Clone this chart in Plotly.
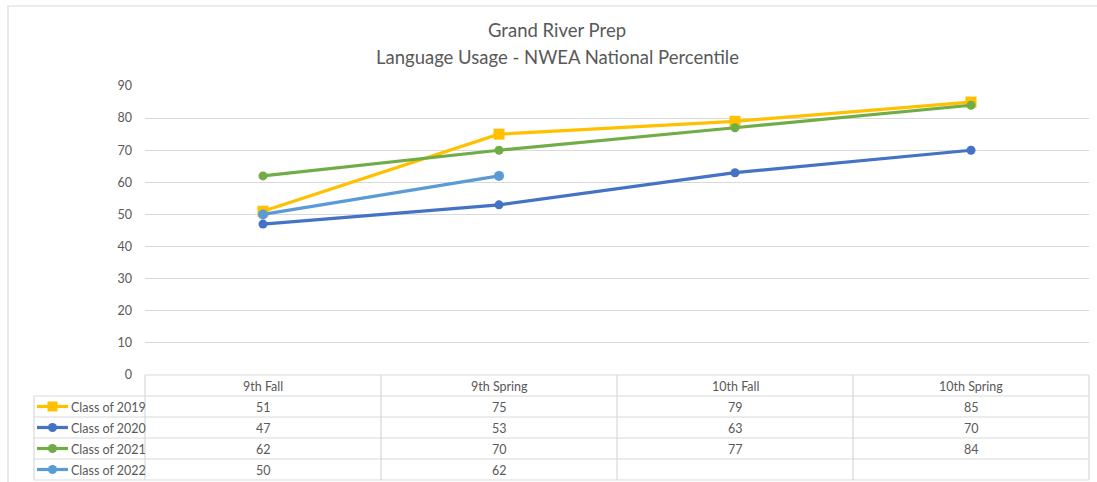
import plotly.graph_objects as go

categories = ["9th Fall", "9th Spring", "10th Fall", "10th Spring"]
series_names = ["Class of 2019", "Class of 2020", "Class of 2021", "Class of 2022"]
class_2019 = [51, 75, 79, 85]
class_2020 = [47, 53, 63, 70]
class_2021 = [62, 70, 77, 84]
class_2022 = [50, 62, None, None]
y_ticks = [0, 10, 20, 30, 40, 50, 60, 70, 80, 90]
title_lines = ["Grand River Prep", "Language Usage - NWEA National Percentile"]

series_values = [class_2019, class_2020, class_2021, class_2022]
colors = ["#FFC000", "#4472C4", "#70AD47", "#5B9BD5"]
symbols = ["square", "circle", "circle", "circle"]
marker_sizes = [11, 9, 9, 10]

W, H = 1097, 482
L, R, T, B = 145, 1089, 86, 375  # plot area in pixels
FONT = "Lato"
TXT = "#595959"
GRID = "#D9D9D9"

def px(x):
    return (x - L) / (R - L)

def py(y):
    return (B - y) / (B - T)

xs = list(range(len(categories)))
fig = go.Figure()
for name, vals, c, s, ms in zip(series_names, series_values, colors, symbols, marker_sizes):
    fig.add_trace(go.Scatter(
        x=xs, y=vals, name=name, mode="lines+markers",
        line=dict(color=c, width=3.2),
        marker=dict(symbol=s, size=ms, color=c),
        showlegend=False, hoverinfo="skip",
    ))

shapes = []
annotations = []
# outer frame
shapes.append(dict(type="rect", xref="paper", yref="paper",
                   x0=px(8), x1=px(1110), y0=py(6), y1=py(495),
                   line=dict(color=GRID, width=1.2), fillcolor="rgba(0,0,0,0)", layer="below"))

row_h = 21
header_top = 375
header_bot = 396
row_lines = [header_bot + i * row_h for i in range(len(series_names) + 1)]
col_w = (R - L) / len(categories)
leg_left = 34
shapes.append(dict(type="line", xref="paper", yref="paper", x0=px(L), x1=px(R),
                   y0=py(header_top), y1=py(header_top), line=dict(color=GRID, width=1.2)))
for yy in row_lines:
    shapes.append(dict(type="line", xref="paper", yref="paper", x0=px(leg_left), x1=px(R),
                       y0=py(yy), y1=py(yy), line=dict(color=GRID, width=1.2)))
for i in range(len(categories) + 1):
    xx = L + i * col_w
    shapes.append(dict(type="line", xref="paper", yref="paper", x0=px(xx), x1=px(xx),
                       y0=py(header_top), y1=py(row_lines[-1]), line=dict(color=GRID, width=1.2)))
shapes.append(dict(type="line", xref="paper", yref="paper", x0=px(leg_left), x1=px(leg_left),
                   y0=py(header_bot), y1=py(row_lines[-1]), line=dict(color=GRID, width=1.2)))

cell_font = dict(family=FONT, size=12.5, color=TXT)
for i, cat in enumerate(categories):
    annotations.append(dict(x=i, xref="x", y=py((header_top + header_bot) / 2 + 0.5), yref="paper",
                            xanchor="center", yanchor="middle",
                            text=cat, showarrow=False, font=cell_font))
for r, (name, vals, c, s) in enumerate(zip(series_names, series_values, colors, symbols)):
    ycp = row_lines[r] + row_h / 2
    yc = py(ycp)
    for i, v in enumerate(vals):
        if v is not None:
            annotations.append(dict(x=i, xref="x", y=py(ycp + 0.5), yref="paper", text=str(v),
                                    showarrow=False, xanchor="center", yanchor="middle",
                                    font=cell_font))
    annotations.append(dict(x=px(69), xref="paper", y=py(ycp + 0.5), yref="paper", text=name,
                            showarrow=False, xanchor="left", yanchor="middle", font=cell_font))
    shapes.append(dict(type="line", xref="paper", yref="paper", x0=px(37), x1=px(68),
                       y0=yc, y1=yc, line=dict(color=c, width=3.2)))
    half = 5 if s == "square" else 4.5
    shapes.append(dict(type="rect" if s == "square" else "circle", xref="paper", yref="paper",
                       xsizemode="pixel", ysizemode="pixel", xanchor=px(52.5), yanchor=yc,
                       x0=-half, x1=half, y0=-half, y1=half,
                       fillcolor=c, line=dict(color=c, width=0)))

title_font = dict(family=FONT, size=18.5, color=TXT)
annotations.append(dict(x=px(557), xref="paper", y=py(30), yref="paper", text=title_lines[0],
                        showarrow=False, xanchor="center", yanchor="middle", font=title_font))
annotations.append(dict(x=px(557), xref="paper", y=py(57), yref="paper", text=title_lines[1],
                        showarrow=False, xanchor="center", yanchor="middle", font=title_font))

fig.update_layout(
    width=W, height=H,
    margin=dict(l=L, r=W - R, t=T, b=H - B, pad=0),
    paper_bgcolor="white", plot_bgcolor="white",
    shapes=shapes, annotations=annotations,
    xaxis=dict(range=[-0.5, len(categories) - 0.5], showticklabels=False, showgrid=False,
               zeroline=False, showline=False, fixedrange=True),
    yaxis=dict(range=[0, 90], tickvals=y_ticks, showgrid=True, gridcolor=GRID, gridwidth=1.2,
               zeroline=False, showline=False, ticks="", ticklabelstandoff=12,
               tickfont=dict(family=FONT, size=12.5, color=TXT), fixedrange=True),
    font=dict(family=FONT, color=TXT),
)

fig.write_html("out.html", config={"displayModeBar": False},
               post_script="document.body.style.margin='0';document.body.style.padding='0';")
